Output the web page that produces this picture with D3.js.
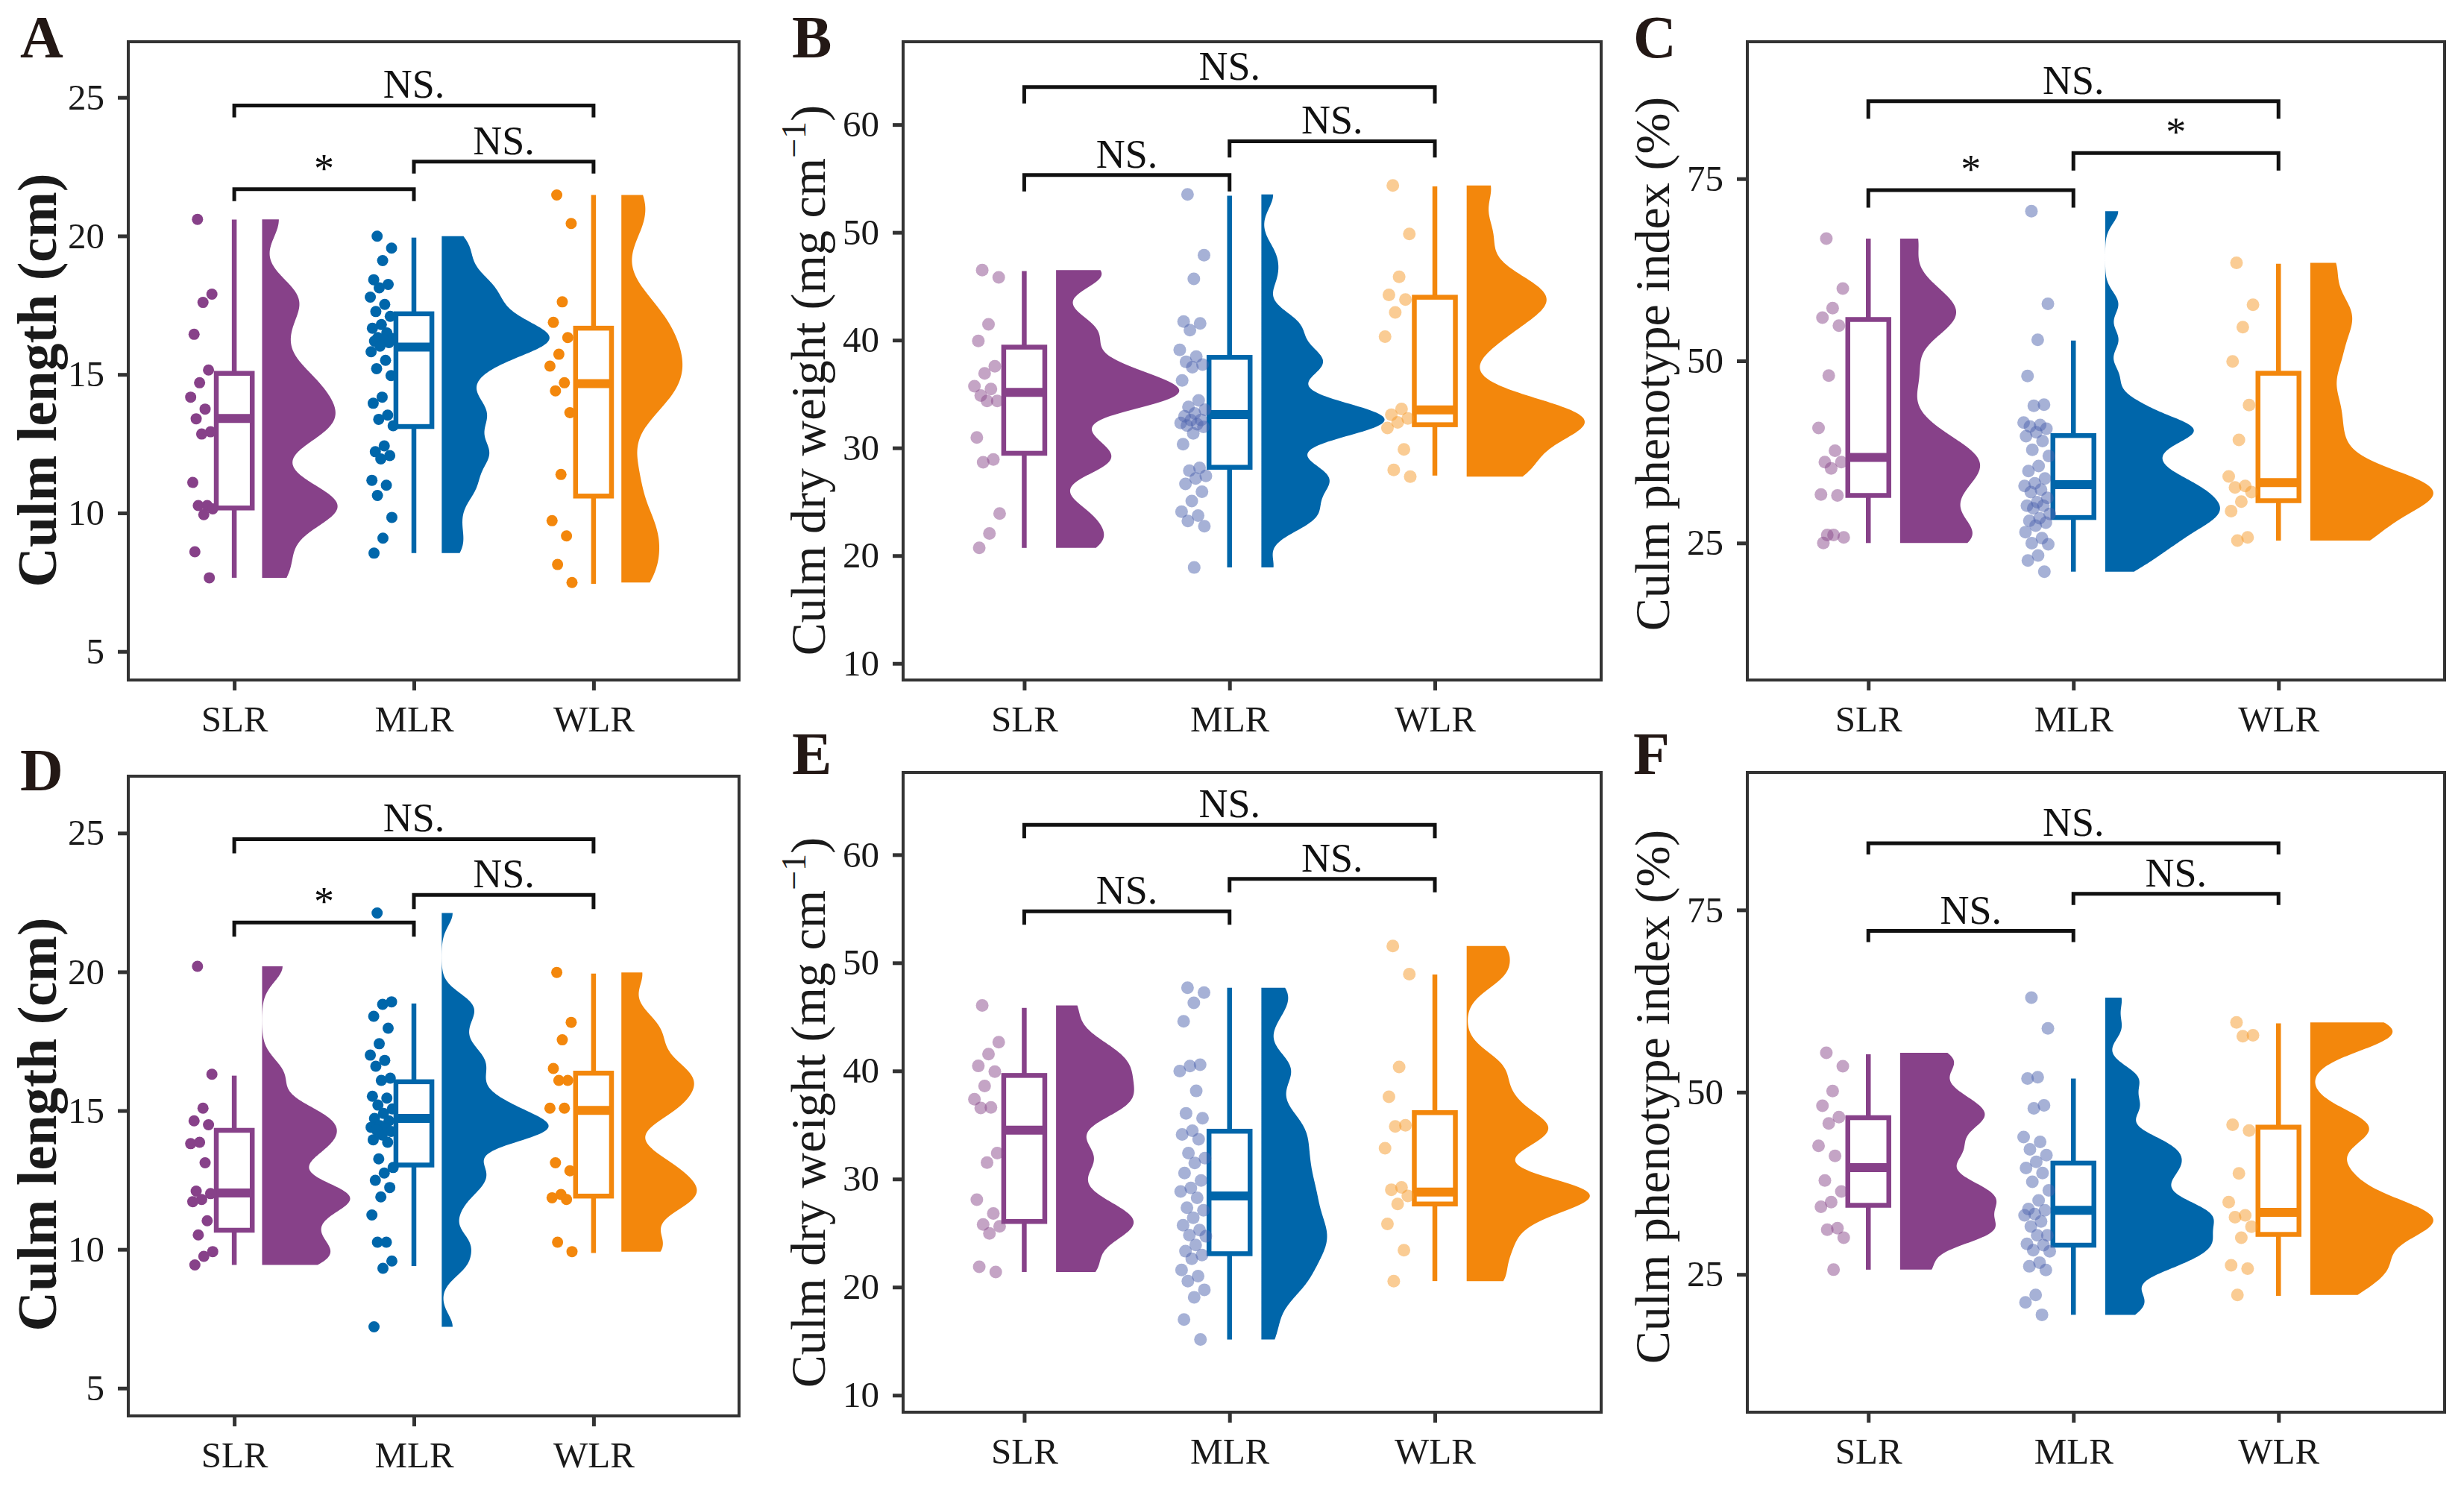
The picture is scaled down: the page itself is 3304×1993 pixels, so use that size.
<!DOCTYPE html>
<html><head><meta charset="utf-8">
<script src="https://cdn.jsdelivr.net/npm/d3@7"></script>
<style>body{margin:0;background:#fff}svg{display:block}</style>
</head><body>
<svg id="c" width="3304" height="1993"></svg>
<script>
// ---------------- DATA ----------------
const groups = ["SLR", "MLR", "WLR"];

const A_SLR = [20.6, 17.9, 17.6, 16.45, 15.16, 14.7, 14.18, 13.75, 13.4, 12.93, 12.85, 11.1, 10.27, 10.27, 10.15, 9.94, 8.6, 7.66];
const A_MLR = [19.99, 19.56, 19.11, 18.42, 18.25, 18.13, 17.79, 17.53, 17.27, 17.1, 16.8, 16.67, 16.5, 16.33, 16.3, 16.25, 16.2, 16.15, 16.02, 15.82, 15.51, 15.21, 14.96, 14.18, 13.96, 13.53, 13.38, 13.15, 12.42, 12.21, 12.07, 11.95, 11.18, 11.0, 10.63, 9.84, 9.09, 8.55];
const A_WLR = [21.48, 20.45, 17.62, 16.88, 16.33, 15.73, 15.3, 14.7, 14.41, 13.62, 11.39, 9.72, 9.17, 8.14, 7.49];
// box stats: [lower whisker, Q1, median, Q3, upper whisker]
const A_BOX = [[7.66, 10.18, 13.41, 15.04, 20.59], [8.55, 13.12, 15.99, 17.19, 19.94], [7.44, 10.61, 14.67, 16.67, 21.48]];

const B_SLR = [46.5, 45.83, 41.47, 39.92, 37.58, 36.92, 35.73, 35.46, 34.85, 34.36, 34.36, 30.96, 28.93, 28.67, 23.9, 22.05, 20.72];
const B_MLR = [53.53, 47.89, 45.68, 41.72, 41.55, 40.93, 39.09, 38.47, 37.98, 37.73, 37.49, 36.26, 34.41, 33.8, 33.55, 33.2, 32.94, 32.6, 32.57, 32.32, 32.2, 32.08, 31.95, 31.34, 30.35, 28.14, 27.89, 27.4, 27.16, 26.66, 25.93, 25.07, 24.08, 23.71, 23.22, 22.73, 18.9];
const B_WLR = [54.35, 49.85, 45.88, 44.2, 43.76, 42.57, 40.32, 33.61, 33.08, 32.73, 32.37, 31.84, 29.86, 27.96, 27.34];
const B_BOX = [[20.72, 29.5, 35.15, 39.35, 46.41], [18.9, 28.2, 33.1, 38.4, 53.4], [27.43, 32.15, 33.52, 43.98, 54.26]];

const C_SLR = [66.78, 59.92, 57.25, 55.94, 54.83, 47.98, 40.8, 37.66, 36.1, 36.1, 35.25, 31.66, 31.53, 26.11, 25.78, 26.11, 25.0];
const C_MLR = [70.54, 57.82, 52.9, 47.92, 43.99, 43.83, 41.54, 41.2, 41.0, 40.69, 40.2, 39.66, 39.0, 37.79, 36.94, 35.57, 34.89, 33.86, 33.2, 32.84, 32.33, 32.0, 31.2, 30.6, 30.11, 30.11, 29.77, 29.0, 28.41, 28.06, 27.8, 27.38, 26.5, 25.67, 24.99, 24.82, 23.29, 22.6, 21.07];
const C_WLR = [63.45, 57.7, 54.63, 49.93, 43.93, 39.16, 34.14, 32.83, 32.64, 31.98, 30.68, 29.37, 25.78, 25.33];
const C_BOX = [[25.0, 31.53, 36.75, 55.68, 66.78], [21.07, 28.5, 33.0, 39.75, 52.8], [25.33, 30.81, 33.29, 48.3, 63.32]];

const D_SLR = [20.2, 16.31, 15.09, 14.63, 14.49, 13.86, 13.81, 13.12, 12.1, 12.01, 11.8, 11.72, 11.03, 10.52, 9.92, 9.75, 9.44];
const D_MLR = [22.12, 18.92, 18.83, 18.4, 17.97, 17.41, 17.0, 16.81, 16.6, 16.17, 16.09, 15.52, 15.45, 15.2, 15.06, 14.9, 14.72, 14.63, 14.46, 14.4, 14.35, 14.3, 14.25, 14.12, 13.95, 13.86, 13.26, 12.95, 12.75, 12.49, 12.23, 11.89, 11.24, 10.26, 10.26, 9.58, 9.32, 7.21];
const D_WLR = [19.98, 18.18, 17.55, 16.52, 16.09, 16.09, 15.09, 15.09, 13.12, 12.83, 11.98, 11.86, 11.8, 10.26, 9.92];
const D_BOX = [[9.44, 10.69, 12.03, 14.29, 16.26], [9.4, 13.04, 14.72, 16.04, 18.86], [9.87, 11.92, 15.01, 16.35, 19.94]];

const E_SLR = [46.05, 42.66, 41.56, 40.46, 39.93, 38.61, 37.38, 36.63, 36.58, 32.4, 31.52, 28.09, 26.81, 25.8, 25.62, 24.96, 21.88, 21.4];
const E_MLR = [47.7, 47.24, 46.3, 44.59, 40.57, 40.45, 39.99, 38.15, 36.08, 35.62, 34.47, 34.12, 33.67, 32.4, 31.94, 31.48, 30.56, 29.87, 29.18, 28.84, 28.26, 27.34, 27.11, 26.42, 25.73, 25.27, 24.81, 24.7, 23.89, 23.32, 22.97, 22.62, 21.59, 21.02, 20.56, 19.75, 19.06, 17.0, 15.15];
const E_WLR = [51.55, 48.95, 40.37, 37.6, 34.96, 34.87, 32.84, 29.23, 29.01, 28.44, 27.69, 25.85, 23.42, 20.56];
const E_BOX = [[21.4, 26.07, 34.52, 39.58, 45.83], [15.15, 23.09, 28.44, 34.42, 47.7], [20.56, 27.69, 28.79, 36.14, 48.91]];

const F_SLR = [55.39, 53.56, 50.16, 48.14, 46.57, 45.72, 42.65, 41.27, 37.88, 36.37, 34.93, 34.28, 31.34, 31.14, 30.03, 25.65];
const F_MLR = [62.96, 58.76, 52.04, 51.87, 48.19, 47.78, 43.85, 43.17, 42.15, 41.36, 40.44, 39.59, 38.9, 37.71, 36.52, 35.15, 33.96, 33.79, 33.28, 33.1, 32.25, 31.57, 30.37, 30.37, 29.18, 29.01, 28.33, 28.16, 26.62, 26.11, 25.6, 22.19, 21.16, 19.46];
const F_WLR = [59.58, 57.81, 57.68, 45.52, 44.74, 38.86, 34.93, 33.1, 32.84, 31.54, 30.03, 26.24, 25.78, 22.19];
const F_BOX = [[25.65, 34.48, 39.64, 46.5, 55.2], [19.46, 29.01, 33.79, 40.27, 51.87], [22.06, 30.49, 33.5, 45.2, 59.44]];

const TICKS_LEN = [5, 10, 15, 20, 25];
const TICKS_WT = [10, 20, 30, 40, 50, 60];
const TICKS_IDX = [25, 50, 75];

// comparisons: [group a, group b, bracket height]
const A_CMP = [[1, 3, 24.71], [2, 3, 22.68], [1, 2, 21.69]];
const B_CMP = [[1, 3, 63.49], [2, 3, 58.46], [1, 2, 55.32]];
const C_CMP = [[1, 3, 85.64], [2, 3, 78.52], [1, 2, 73.43]];
const D_CMP = [[1, 3, 24.78], [2, 3, 22.77], [1, 2, 21.78]];
const E_CMP = [[1, 3, 62.77], [2, 3, 57.76], [1, 2, 54.76]];
const F_CMP = [[1, 3, 84.15], [2, 3, 77.22], [1, 2, 72.12]];
const A_SIG = ["NS.", "NS.", "*"];
const B_SIG = ["NS.", "NS.", "NS."];
const C_SIG = ["NS.", "*", "*"];
const D_SIG = ["NS.", "NS.", "*"];
const E_SIG = ["NS.", "NS.", "NS."];
const F_SIG = ["NS.", "NS.", "NS."];

const TITLE_LEN = "Culm length (cm)";
const TITLE_WT = "Culm dry weight (mg cm";
const TITLE_IDX = "Culm phenotype index (%)";

// ---------------- LAYOUT / STYLE ----------------
const FONT = "'Liberation Serif','Times New Roman',serif";
const fillCols = ["#874189", "#0066AA", "#F3870C"];
const solidPts = ["#874189", "#0066AA", "#F3870C"];
const softPts = ["#8a4a8c", "#4d63ad", "#f59a2a"];

// max half-violin widths (category units) as seen in each panel
const panels = [
  {letter: "A", lx: 27, ly: 77, x0: 172, x1: 991, y0: 56, y1: 912, dom: [3.97, 27.01], ticks: TICKS_LEN,
   data: [A_SLR, A_MLR, A_WLR], box: A_BOX, cmp: A_CMP, sig: A_SIG, tip: 0.43, solid: true,
   vw: [0.42, 0.6, 0.34],
   title: TITLE_LEN, tBold: true, tSize: 74, tx: 75, ty: 510},
  {letter: "B", lx: 1062, ly: 77, x0: 1211, x1: 2147, y0: 56, y1: 912, dom: [8.46, 67.69], ticks: TICKS_WT,
   data: [B_SLR, B_MLR, B_WLR], box: B_BOX, cmp: B_CMP, sig: B_SIG, tip: 1.52, solid: false,
   vw: [0.6, 0.6, 0.575],
   title: TITLE_WT, sup: true, tBold: false, tSize: 66, tx: 1106, ty: 510},
  {letter: "C", lx: 2190, ly: 77, x0: 2343, x1: 3278, y0: 56, y1: 912, dom: [6.2, 93.8], ticks: TICKS_IDX,
   data: [C_SLR, C_MLR, C_WLR], box: C_BOX, cmp: C_CMP, sig: C_SIG, tip: 2.4, solid: false,
   vw: [0.39, 0.56, 0.6],
   title: TITLE_IDX, tBold: false, tSize: 66, tx: 2238, ty: 488},
  {letter: "D", lx: 27, ly: 1060, x0: 172, x1: 991, y0: 1041, y1: 1899, dom: [4.0, 27.05], ticks: TICKS_LEN,
   data: [D_SLR, D_MLR, D_WLR], box: D_BOX, cmp: D_CMP, sig: D_SIG, tip: 0.51, solid: true,
   vw: [0.49, 0.595, 0.42],
   title: TITLE_LEN, tBold: true, tSize: 74, tx: 75, ty: 1508},
  {letter: "E", lx: 1062, ly: 1038, x0: 1211, x1: 2147, y0: 1036, y1: 1894, dom: [8.43, 67.61], ticks: TICKS_WT,
   data: [E_SLR, E_MLR, E_WLR], box: E_BOX, cmp: E_CMP, sig: E_SIG, tip: 1.24, solid: false,
   vw: [0.38, 0.32, 0.6],
   title: TITLE_WT, sup: true, tBold: false, tSize: 66, tx: 1106, ty: 1492},
  {letter: "F", lx: 2190, ly: 1038, x0: 2343, x1: 3278, y0: 1036, y1: 1894, dom: [6.1, 93.86], ticks: TICKS_IDX,
   data: [F_SLR, F_MLR, F_WLR], box: F_BOX, cmp: F_CMP, sig: F_SIG, tip: 1.54, solid: false,
   vw: [0.47, 0.53, 0.6],
   title: TITLE_IDX, tBold: false, tSize: 66, tx: 2238, ty: 1471}
];

// ---------------- HELPERS ----------------
function nrd0(v) {
  const sd = d3.deviation(v);
  const s = v.slice().sort(d3.ascending);
  const iqr = d3.quantileSorted(s, 0.75) - d3.quantileSorted(s, 0.25);
  const lo = Math.min(sd, iqr / 1.34) || sd;
  return 0.9 * lo * Math.pow(v.length, -0.2);
}
function kde(v, adjust) {
  const bw = nrd0(v) * adjust;
  const lo = d3.min(v), hi = d3.max(v), n = 300;
  return d3.range(n).map(i => {
    const y = lo + (hi - lo) * i / (n - 1);
    const d = d3.mean(v, x => Math.exp(-0.5 * ((y - x) / bw) ** 2)) / (bw * Math.sqrt(2 * Math.PI));
    return [y, d];
  });
}
// deterministic jitter offsets (low-discrepancy sequence)
function jit(i) { return ((i * 0.6180339887 + 0.31) % 1) - 0.5; }

// ---------------- DRAW ----------------
const svg = d3.select("#c");
svg.append("rect").attr("width", 3304).attr("height", 1993).attr("fill", "#fff");

panels.forEach(p => {
  const g = svg.append("g");
  const x = d3.scaleLinear().domain([0.41, 3.81]).range([p.x0, p.x1]);
  const y = d3.scaleLinear().domain(p.dom).range([p.y1, p.y0]);

  // half violins
  const dens = p.data.map(v => kde(v, 0.42));
  dens.forEach((d, i) => {
    const k = p.vw[i] / d3.max(d, e => e[1]);
    const base = i + 1 + 0.155;
    const area = d3.area()
      .y(e => y(e[0]))
      .x0(() => x(base))
      .x1(e => x(base + k * e[1]))
      .curve(d3.curveLinear);
    g.append("path").attr("d", area(d)).attr("fill", fillCols[i]).attr("stroke", "none");
  });

  // boxplots
  const bw = 0.2;
  p.box.forEach((b, i) => {
    const cx = x(i + 1);
    const col = fillCols[i];
    g.append("line").attr("x1", cx).attr("x2", cx).attr("y1", y(b[0])).attr("y2", y(b[1]))
      .attr("stroke", col).attr("stroke-width", 6.5);
    g.append("line").attr("x1", cx).attr("x2", cx).attr("y1", y(b[3])).attr("y2", y(b[4]))
      .attr("stroke", col).attr("stroke-width", 6.5);
    g.append("rect").attr("x", x(i + 1 - bw / 2)).attr("width", x(i + 1 + bw / 2) - x(i + 1 - bw / 2))
      .attr("y", y(b[3])).attr("height", y(b[1]) - y(b[3]))
      .attr("fill", "#fff").attr("stroke", col).attr("stroke-width", 6.5);
    g.append("line").attr("x1", x(i + 1 - bw / 2)).attr("x2", x(i + 1 + bw / 2))
      .attr("y1", y(b[2])).attr("y2", y(b[2])).attr("stroke", col).attr("stroke-width", 12);
  });

  // jittered points
  p.data.forEach((v, i) => {
    g.append("g").selectAll("circle").data(v).join("circle")
      .attr("cx", (d, j) => x(i + 1 - 0.18 + 0.13 * jit(j)))
      .attr("cy", d => y(d))
      .attr("r", p.solid ? 7.5 : 8.5)
      .attr("fill", p.solid ? solidPts[i] : softPts[i])
      .attr("fill-opacity", p.solid ? 1 : 0.5);
  });

  // significance brackets
  p.cmp.forEach((c, j) => {
    const xa = x(c[0]), xb = x(c[1]), yy = y(c[2]), tip = y(c[2] - p.tip) - yy;
    g.append("path").attr("d", `M${xa},${yy + tip}L${xa},${yy}L${xb},${yy}L${xb},${yy + tip}`)
      .attr("fill", "none").attr("stroke", "#111").attr("stroke-width", 5);
    g.append("text").attr("x", (xa + xb) / 2).attr("y", yy - 10).attr("text-anchor", "middle")
      .attr("font-family", FONT).attr("font-size", 54).attr("fill", "#111").text(p.sig[j]);
  });

  // panel border
  g.append("rect").attr("x", p.x0).attr("y", p.y0).attr("width", p.x1 - p.x0).attr("height", p.y1 - p.y0)
    .attr("fill", "none").attr("stroke", "#333").attr("stroke-width", 4);

  // axes
  const ya = g.append("g").attr("transform", `translate(${p.x0},0)`)
    .call(d3.axisLeft(y).tickValues(p.ticks).tickSize(14).tickPadding(18).tickFormat(d3.format("d")));
  const xa = g.append("g").attr("transform", `translate(0,${p.y1})`)
    .call(d3.axisBottom(x).tickValues([1, 2, 3]).tickSize(14).tickPadding(20).tickFormat(d => groups[d - 1]));
  [ya, xa].forEach(a => {
    a.select(".domain").remove();
    a.selectAll(".tick line").attr("stroke", "#333").attr("stroke-width", 5);
    a.selectAll(".tick text").attr("font-family", FONT).attr("font-size", 49).attr("fill", "#1a1a1a");
  });

  // y title
  const t = g.append("text").attr("transform", `translate(${p.tx},${p.ty}) rotate(-90)`)
    .attr("text-anchor", "middle").attr("font-family", FONT).attr("font-size", p.tSize)
    .attr("font-weight", p.tBold ? "bold" : "normal").attr("fill", "#1a1a1a");
  if (p.sup) {
    t.append("tspan").text(p.title);
    t.append("tspan").attr("font-size", p.tSize * 0.7).attr("dy", -p.tSize * 0.4).text("\u22121");
    t.append("tspan").attr("dy", p.tSize * 0.4).text(")");
  } else {
    t.text(p.title);
  }

  // panel letter
  svg.append("text").attr("x", p.lx).attr("y", p.ly).attr("font-family", FONT).attr("font-size", 80)
    .attr("font-weight", "bold").attr("fill", "#231815").text(p.letter);
});
</script>
</body></html>
